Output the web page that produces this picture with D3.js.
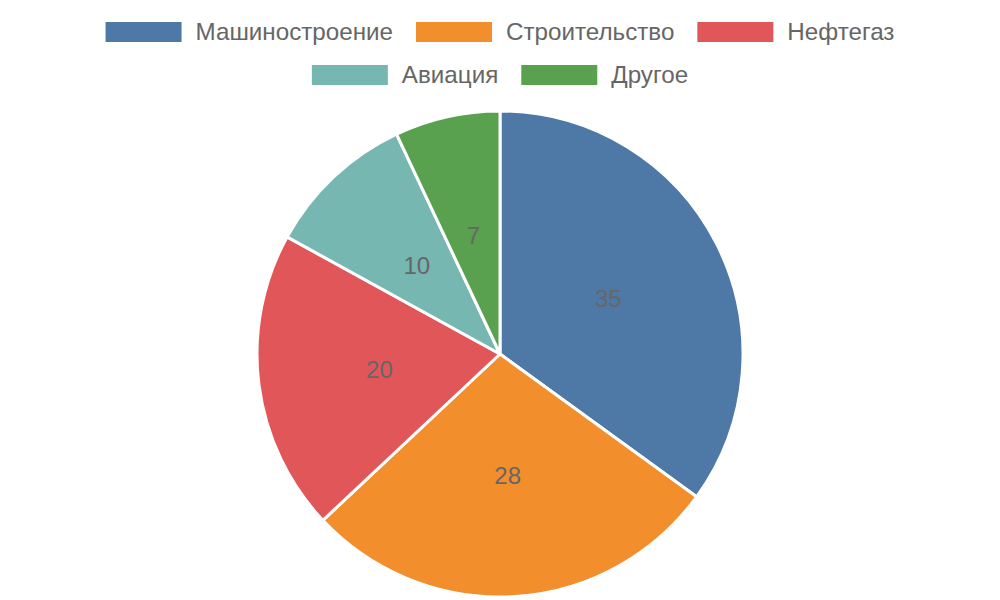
<!DOCTYPE html>
<html>
<head>
<meta charset="utf-8">
<script src="https://cdn.jsdelivr.net/npm/d3@7"></script>
<style>
  body { margin: 0; background: #fff; }
  svg { display: block; font-family: "Liberation Sans", Arial, sans-serif; }
</style>
</head>
<body>
<svg id="chart" width="1000" height="600"></svg>
<script>
var categories = ['Машиностроение', 'Строительство', 'Нефтегаз', 'Авиация', 'Другое'];
var values = [35, 28, 20, 10, 7];
var colors = ['#4e79a7', '#f28e2b', '#e15759', '#76b7b2', '#59a14f'];

var svg = d3.select("#chart");
var width = 1000;

// legend, wrapped into centred rows
var boxW = 76, boxH = 20, textGap = 14, itemGap = 23, maxRow = 960;
var legend = svg.append("g");
var items = legend.selectAll("g.item")
    .data(categories)
    .enter()
    .append("g")
    .attr("class", "item");

items.append("rect")
    .attr("width", boxW)
    .attr("height", boxH)
    .attr("fill", function(d, i) { return colors[i]; });

items.append("text")
    .attr("x", boxW + textGap)
    .attr("y", boxH / 2)
    .attr("dy", "0.35em")
    .attr("font-size", "24.2px")
    .attr("fill", "#666")
    .text(function(d) { return d; });

var rows = [[]], rowW = [0];
items.each(function(d, i) {
    var w = boxW + textGap + this.querySelector("text").getComputedTextLength();
    var r = rows.length - 1;
    var add = rows[r].length ? itemGap + w : w;
    if (rowW[r] + add > maxRow) {
        rows.push([]); rowW.push(0); r++; add = w;
    }
    rows[r].push({ node: this, w: w });
    rowW[r] += add;
});
rows.forEach(function(row, r) {
    var x = (width - rowW[r]) / 2;
    row.forEach(function(it) {
        d3.select(it.node).attr("transform", "translate(" + x + "," + (22 + r * 43) + ")");
        x += it.w + itemGap;
    });
});

// pie
var cx = 500, cy = 354, radius = 243;
var pie = d3.pie().sort(null).value(function(d) { return d; });
var arc = d3.arc().innerRadius(0).outerRadius(radius);
var g = svg.append("g").attr("transform", "translate(" + cx + "," + cy + ")");

var arcs = pie(values);
g.selectAll("path")
    .data(arcs)
    .enter()
    .append("path")
    .attr("d", arc)
    .attr("fill", function(d, i) { return colors[i]; })
    .attr("stroke", "#fff")
    .attr("stroke-width", 3)
    .attr("stroke-linejoin", "round");

g.selectAll("text.val")
    .data(arcs)
    .enter()
    .append("text")
    .attr("class", "val")
    .attr("transform", function(d) { return "translate(" + arc.centroid(d) + ")"; })
    .attr("text-anchor", "middle")
    .attr("dy", "0.35em")
    .attr("font-size", "24px")
    .attr("fill", "#666")
    .text(function(d) { return d.data; });
</script>
</body>
</html>
